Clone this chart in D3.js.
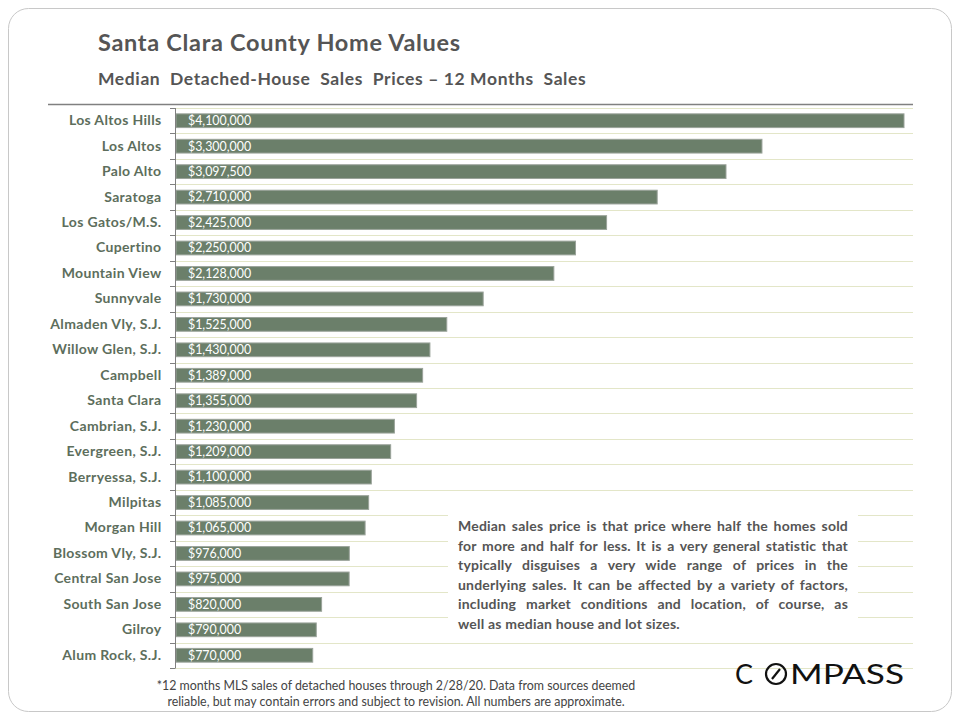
<!DOCTYPE html>
<html>
<head>
<meta charset="utf-8">
<script src="https://cdn.jsdelivr.net/npm/d3@7"></script>
<style>
  body { margin: 0; background: #fff; }
  svg { display: block; }
  .note {
    font-family: Lato, "Open Sans", sans-serif;
    font-weight: bold;
    font-size: 14px;
    letter-spacing: 0.2px;
    line-height: 19.5px;
    color: #555;
    background: #fff;
    padding: 4px 10px 4px 10px;
    box-sizing: border-box;
    height: 100%;
  }
  .note div { text-align: justify; text-align-last: justify; white-space: nowrap; }
  .note div.last { text-align-last: left; }
</style>
</head>
<body>
<div id="container"></div>
<script>
// Chart data
const areas = [
  "Los Altos Hills", "Los Altos", "Palo Alto", "Saratoga", "Los Gatos/M.S.",
  "Cupertino", "Mountain View", "Sunnyvale", "Almaden Vly, S.J.", "Willow Glen, S.J.",
  "Campbell", "Santa Clara", "Cambrian, S.J.", "Evergreen, S.J.", "Berryessa, S.J.",
  "Milpitas", "Morgan Hill", "Blossom Vly, S.J.", "Central San Jose", "South San Jose",
  "Gilroy", "Alum Rock, S.J."
];
const prices = [
  4100000, 3300000, 3097500, 2710000, 2425000,
  2250000, 2128000, 1730000, 1525000, 1430000,
  1389000, 1355000, 1230000, 1209000, 1100000,
  1085000, 1065000, 976000, 975000, 820000,
  790000, 770000
];
const title = "Santa Clara County Home Values";
const subtitle = "Median  Detached-House  Sales  Prices \u2013 12 Months  Sales";
const noteLines = [
  "Median sales price is that price where half the homes sold",
  "for more and half for less. It is a very general statistic that",
  "typically disguises a very wide range of prices in the",
  "underlying sales. It can be affected by a variety of factors,",
  "including market conditions and location, of course, as",
  "well as median house and lot sizes."
];
const footLines = [
  "*12 months MLS sales of detached houses through 2/28/20. Data from sources deemed",
  "reliable, but may contain errors and subject to revision. All numbers are approximate."
];

const width = 960, height = 720;
const font = "Lato, 'Open Sans', sans-serif";

const svg = d3.create("svg")
  .attr("width", width)
  .attr("height", height);
container.append(svg.node());

// slide frame
svg.append("rect")
  .attr("x", 8.5).attr("y", 8.5)
  .attr("width", 943).attr("height", 703)
  .attr("rx", 20)
  .attr("fill", "#fff")
  .attr("stroke", "#c8c8c8");

// titles
svg.append("text")
  .attr("x", 98).attr("y", 51)
  .attr("font-family", font).attr("font-weight", "bold")
  .attr("font-size", 23.5).attr("fill", "#555")
  .attr("letter-spacing", 0.7)
  .text(title);
svg.append("text")
  .attr("x", 98).attr("y", 85)
  .attr("font-family", font).attr("font-weight", "bold")
  .attr("font-size", 17.5).attr("fill", "#555")
  .attr("letter-spacing", 0.6)
  .style("white-space", "pre")
  .text(subtitle);

// top rule
svg.append("line")
  .attr("x1", 48).attr("x2", 913)
  .attr("y1", 104.5).attr("y2", 104.5)
  .attr("stroke", "#808080").attr("stroke-width", 1.5);

// scales
const x = d3.scaleLinear()
  .domain([0, 4100000])
  .range([176, 904]);

const y = d3.scaleBand()
  .domain(areas)
  .range([108, 668])
  .paddingInner(0.46)
  .paddingOuter(0.23);

const step = y.step();

// gridlines between rows
svg.append("g").selectAll("line")
  .data(areas.concat(["__end"]))
  .join("line")
  .attr("x1", 175).attr("x2", 913)
  .attr("y1", (d, i) => Math.round(108 + i * step) + 0.5)
  .attr("y2", (d, i) => Math.round(108 + i * step) + 0.5)
  .attr("stroke", "#e3e6c8").attr("stroke-width", 1.2);

// bars
svg.selectAll(".bar")
  .data(prices)
  .join("rect")
  .attr("class", "bar")
  .attr("x", x(0))
  .attr("y", (d, i) => y(areas[i]))
  .attr("width", (d) => x(d) - x(0))
  .attr("height", y.bandwidth())
  .attr("fill", "#6b7f6a")
  .attr("stroke", "#9aa39a")
  .attr("stroke-width", 1);

// value labels
const fmt = d3.format("$,.0f");
svg.selectAll(".val")
  .data(prices)
  .join("text")
  .attr("class", "val")
  .attr("x", 188)
  .attr("y", (d, i) => y(areas[i]) + y.bandwidth() / 2 + 4.4)
  .attr("font-family", font)
  .attr("font-size", 12.4)
  .attr("fill", "#fff")
  .text((d) => fmt(d));

// category axis
const yAxis = svg.append("g")
  .attr("transform", "translate(175.5,0)")
  .call(d3.axisLeft(y).tickSize(0).tickPadding(14));
yAxis.select(".domain").attr("stroke", "#808080").attr("d", "M0,108V668");
yAxis.selectAll("text")
  .attr("font-family", font)
  .attr("font-weight", "bold")
  .attr("font-size", 14)
  .attr("letter-spacing", 0.35)
  .attr("fill", "#5d6e5c");

// ticks at band boundaries
svg.append("g").selectAll("line")
  .data(areas.concat(["__end"]))
  .join("line")
  .attr("x1", 170).attr("x2", 175.5)
  .attr("y1", (d, i) => Math.round(108 + i * step) + 0.5)
  .attr("y2", (d, i) => Math.round(108 + i * step) + 0.5)
  .attr("stroke", "#808080");

// explanatory note
const note = svg.append("foreignObject")
  .attr("x", 448).attr("y", 512)
  .attr("width", 410).attr("height", 128)
  .append("xhtml:div")
  .attr("class", "note");
note.selectAll("div")
  .data(noteLines)
  .join("xhtml:div")
  .attr("class", (d, i) => i === noteLines.length - 1 ? "last" : null)
  .text((d) => d);

// footnote
svg.append("g").selectAll("text")
  .data(footLines)
  .join("text")
  .attr("x", 396)
  .attr("y", (d, i) => 690 + i * 15.5)
  .attr("text-anchor", "middle")
  .attr("font-family", font)
  .attr("font-size", 12.4)
  .attr("fill", "#444")
  .text((d) => d);

// logo
const logo = svg.append("g").attr("fill", "#111");
logo.append("text")
  .attr("x", 735).attr("y", 684)
  .attr("font-family", font).attr("font-size", 27)
  .attr("textLength", 18).attr("lengthAdjust", "spacingAndGlyphs")
  .text("C");
logo.append("circle")
  .attr("cx", 776).attr("cy", 674).attr("r", 10)
  .attr("fill", "none").attr("stroke", "#111").attr("stroke-width", 2.2);
logo.append("line")
  .attr("x1", 772).attr("y1", 679).attr("x2", 780).attr("y2", 669)
  .attr("stroke", "#111").attr("stroke-width", 2.2);
logo.append("text")
  .attr("x", 790).attr("y", 684)
  .attr("font-family", font).attr("font-size", 27)
  .attr("textLength", 114)
  .attr("lengthAdjust", "spacingAndGlyphs")
  .text("MPASS");
</script>
</body>
</html>
